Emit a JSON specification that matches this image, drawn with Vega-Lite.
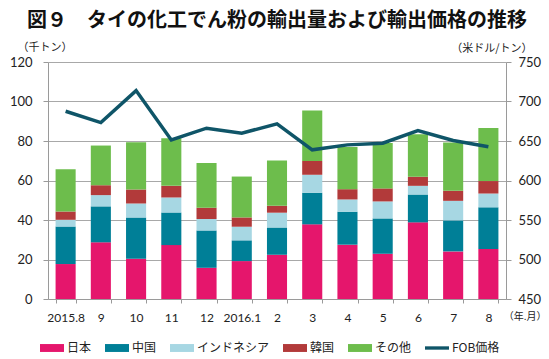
{
  "$schema": "https://vega.github.io/schema/vega-lite/v6.json",
  "autosize": "none",
  "width": 458,
  "height": 237,
  "padding": {"left": 48, "top": 62, "right": 43, "bottom": 60},
  "background": "white",
  "title": {
    "text": "図９　タイの化工でん粉の輸出量および輸出価格の推移",
    "font": "Noto Sans CJK JP",
    "fontSize": 20,
    "fontWeight": "bold",
    "color": "#111111",
    "anchor": "middle",
    "frame": "group",
    "offset": 10
  },
  "config": {
    "view": {"stroke": null},
    "axis": {"labelFont": "Lato", "titleFont": "Noto Sans CJK JP", "labelColor": "#222222", "titleColor": "#222222", "domainColor": "#9a9a9a", "tickColor": "#9a9a9a", "gridColor": "#a8a8a8"}
  },
  "datasets": {
    "vol": [
      {"m": "2015.8", "c": "日本", "o": 1, "v": 17.7}, {"m": "2015.8", "c": "中国", "o": 2, "v": 19.0}, {"m": "2015.8", "c": "インドネシア", "o": 3, "v": 3.4}, {"m": "2015.8", "c": "韓国", "o": 4, "v": 4.2}, {"m": "2015.8", "c": "その他", "o": 5, "v": 21.4},
      {"m": "9", "c": "日本", "o": 1, "v": 28.7}, {"m": "9", "c": "中国", "o": 2, "v": 18.2}, {"m": "9", "c": "インドネシア", "o": 3, "v": 5.7}, {"m": "9", "c": "韓国", "o": 4, "v": 5.0}, {"m": "9", "c": "その他", "o": 5, "v": 20.1},
      {"m": "10", "c": "日本", "o": 1, "v": 20.4}, {"m": "10", "c": "中国", "o": 2, "v": 20.9}, {"m": "10", "c": "インドネシア", "o": 3, "v": 7.1}, {"m": "10", "c": "韓国", "o": 4, "v": 7.1}, {"m": "10", "c": "その他", "o": 5, "v": 23.9},
      {"m": "11", "c": "日本", "o": 1, "v": 27.3}, {"m": "11", "c": "中国", "o": 2, "v": 16.5}, {"m": "11", "c": "インドネシア", "o": 3, "v": 7.6}, {"m": "11", "c": "韓国", "o": 4, "v": 5.9}, {"m": "11", "c": "その他", "o": 5, "v": 24.1},
      {"m": "12", "c": "日本", "o": 1, "v": 15.8}, {"m": "12", "c": "中国", "o": 2, "v": 18.9}, {"m": "12", "c": "インドネシア", "o": 3, "v": 5.8}, {"m": "12", "c": "韓国", "o": 4, "v": 5.7}, {"m": "12", "c": "その他", "o": 5, "v": 22.7},
      {"m": "2016.1", "c": "日本", "o": 1, "v": 19.2}, {"m": "2016.1", "c": "中国", "o": 2, "v": 10.5}, {"m": "2016.1", "c": "インドネシア", "o": 3, "v": 6.9}, {"m": "2016.1", "c": "韓国", "o": 4, "v": 4.7}, {"m": "2016.1", "c": "その他", "o": 5, "v": 20.7},
      {"m": "2", "c": "日本", "o": 1, "v": 22.4}, {"m": "2", "c": "中国", "o": 2, "v": 13.8}, {"m": "2", "c": "インドネシア", "o": 3, "v": 7.5}, {"m": "2", "c": "韓国", "o": 4, "v": 3.5}, {"m": "2", "c": "その他", "o": 5, "v": 22.9},
      {"m": "3", "c": "日本", "o": 1, "v": 37.8}, {"m": "3", "c": "中国", "o": 2, "v": 16.0}, {"m": "3", "c": "インドネシア", "o": 3, "v": 9.1}, {"m": "3", "c": "韓国", "o": 4, "v": 7.0}, {"m": "3", "c": "その他", "o": 5, "v": 25.5},
      {"m": "4", "c": "日本", "o": 1, "v": 27.5}, {"m": "4", "c": "中国", "o": 2, "v": 16.7}, {"m": "4", "c": "インドネシア", "o": 3, "v": 6.2}, {"m": "4", "c": "韓国", "o": 4, "v": 5.2}, {"m": "4", "c": "その他", "o": 5, "v": 21.4},
      {"m": "5", "c": "日本", "o": 1, "v": 22.9}, {"m": "5", "c": "中国", "o": 2, "v": 17.9}, {"m": "5", "c": "インドネシア", "o": 3, "v": 8.6}, {"m": "5", "c": "韓国", "o": 4, "v": 6.6}, {"m": "5", "c": "その他", "o": 5, "v": 23.0},
      {"m": "6", "c": "日本", "o": 1, "v": 38.8}, {"m": "6", "c": "中国", "o": 2, "v": 14.1}, {"m": "6", "c": "インドネシア", "o": 3, "v": 4.4}, {"m": "6", "c": "韓国", "o": 4, "v": 4.6}, {"m": "6", "c": "その他", "o": 5, "v": 21.5},
      {"m": "7", "c": "日本", "o": 1, "v": 24.1}, {"m": "7", "c": "中国", "o": 2, "v": 15.7}, {"m": "7", "c": "インドネシア", "o": 3, "v": 9.9}, {"m": "7", "c": "韓国", "o": 4, "v": 5.1}, {"m": "7", "c": "その他", "o": 5, "v": 24.4},
      {"m": "8", "c": "日本", "o": 1, "v": 25.3}, {"m": "8", "c": "中国", "o": 2, "v": 21.1}, {"m": "8", "c": "インドネシア", "o": 3, "v": 7.0}, {"m": "8", "c": "韓国", "o": 4, "v": 6.3}, {"m": "8", "c": "その他", "o": 5, "v": 26.9}
    ],
    "price": [
      {"m": "2015.8", "s": "FOB価格", "p": 687.7}, {"m": "9", "s": "FOB価格", "p": 673.3}, {"m": "10", "s": "FOB価格", "p": 713.8},
      {"m": "11", "s": "FOB価格", "p": 651.4}, {"m": "12", "s": "FOB価格", "p": 666.2}, {"m": "2016.1", "s": "FOB価格", "p": 659.9},
      {"m": "2", "s": "FOB価格", "p": 671.7}, {"m": "3", "s": "FOB価格", "p": 638.8}, {"m": "4", "s": "FOB価格", "p": 645.1},
      {"m": "5", "s": "FOB価格", "p": 647.2}, {"m": "6", "s": "FOB価格", "p": 663.2}, {"m": "7", "s": "FOB価格", "p": 650.6},
      {"m": "8", "s": "FOB価格", "p": 642.6}
    ]
  },
  "encoding": {
    "x": {
      "field": "m", "type": "nominal", "sort": null,
      "scale": {"paddingInner": 0.43, "paddingOuter": 0.215},
      "axis": {
        "title": "（年.月）", "titleFontSize": 10, "titleFontWeight": "normal", "titleX": 498, "titleY": 12, "titleAlign": "right", "titleBaseline": "top", "titleAngle": 0,
        "labelAngle": 0, "labelFontSize": 12, "labelPadding": 9, "tickBand": "extent", "tickSize": 4, "grid": false
      }
    }
  },
  "layer": [
    {
      "data": {"name": "vol"},
      "mark": {"type": "bar"},
      "encoding": {
        "y": {
          "field": "v", "type": "quantitative", "stack": "zero",
          "scale": {"domain": [0, 120], "nice": false},
          "axis": {
            "title": "（千トン）", "titleFontSize": 11, "titleFontWeight": "normal", "titleAngle": 0, "titleX": -31, "titleY": -15, "titleAlign": "left", "titleBaseline": "middle",
            "values": [0, 20, 40, 60, 80, 100, 120], "labelFontSize": 13, "labelPadding": 11, "tickSize": 5, "grid": true
          }
        },
        "color": {
          "field": "c", "type": "nominal",
          "scale": {
            "domain": ["日本", "中国", "インドネシア", "韓国", "その他", "FOB価格"],
            "range": ["#e5166c", "#007f97", "#a7d7e3", "#b23a3a", "#6dbd4c", "#0f5568"]
          },
          "legend": {
            "title": null, "orient": "none", "legendX": -8, "legendY": 274, "direction": "horizontal",
            "labelFont": "Noto Sans CJK JP", "labelFontSize": 12, "labelColor": "#222222", "labelOffset": 3,
            "symbolSize": 576, "columnPadding": 13, "symbolStrokeWidth": 0,
            "encode": {
              "symbols": {
                "update": {
                  "shape": {"signal": "datum.value === 'FOB価格' ? 'M-1,-0.14L1,-0.14L1,0.14L-1,0.14Z' : 'M-1,-0.33L1,-0.33L1,0.33L-1,0.33Z'"},
                  "fill": {"signal": "scale('color', datum.value)"},
                  "fillOpacity": {"value": 1},
                  "strokeWidth": {"value": 0}
                }
              }
            }
          }
        },
        "order": {"field": "o", "type": "quantitative", "sort": "ascending"}
      }
    },
    {
      "data": {"name": "price"},
      "mark": {"type": "line", "strokeWidth": 3.5, "strokeJoin": "miter"},
      "encoding": {
        "y": {
          "field": "p", "type": "quantitative",
          "scale": {"domain": [450, 750], "nice": false, "zero": false},
          "axis": {
            "orient": "right", "title": "（米ドル/トン）", "titleFontSize": 11, "titleFontWeight": "normal", "titleAngle": 0, "titleX": 26, "titleY": -14, "titleAlign": "right", "titleBaseline": "middle",
            "values": [450, 500, 550, 600, 650, 700, 750], "labelFontSize": 13, "labelPadding": 7, "tickSize": 5, "grid": false
          }
        },
        "color": {"field": "s", "type": "nominal"}
      }
    }
  ],
  "resolve": {"scale": {"y": "independent"}}
}
